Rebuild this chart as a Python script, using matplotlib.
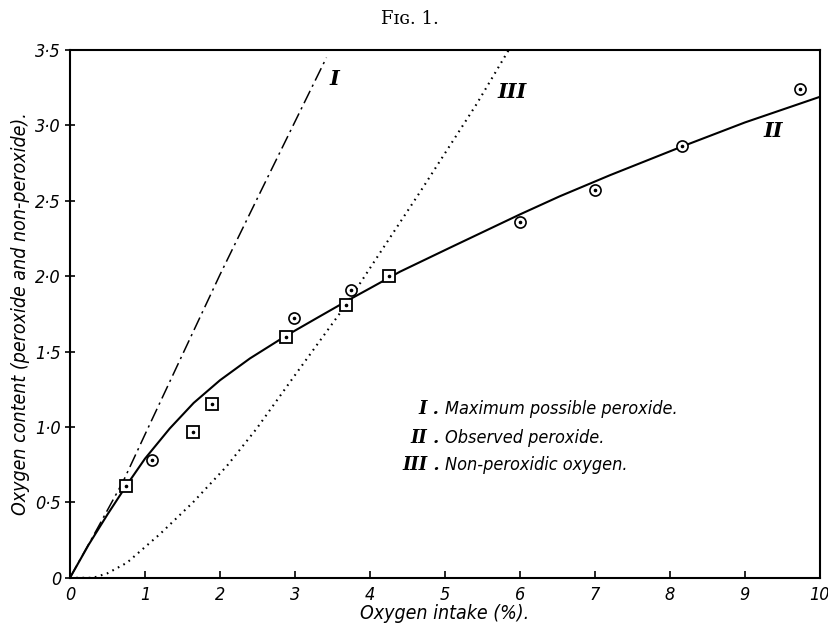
import numpy as np
import matplotlib
matplotlib.use('Agg')
import matplotlib.pyplot as plt

# Observed peroxide points (squares and circles)
sq_x = [0.75, 1.64, 1.89, 2.88, 3.68, 4.25]
sq_y = [0.61, 0.97, 1.155, 1.60, 1.81, 2.00]
ci_x = [1.09, 2.99, 3.75, 6.0, 7.0, 8.16, 9.73]
ci_y = [0.78, 1.72, 1.91, 2.36, 2.57, 2.865, 3.24]

# Curve I: maximum possible peroxide (dash-dot)
c1_x = [0, 0.38, 0.71, 1.0, 2.0, 2.62, 3.42]
c1_y = [0, 0.34, 0.64, 0.95, 2.01, 2.64, 3.45]

# Curve II: observed peroxide (solid)
c2_x = [0, 0.25, 0.5, 0.75, 1.0, 1.33, 1.65, 2.0, 2.4, 2.88, 3.3, 3.67, 4.0,
        4.4, 5.07, 6.0, 6.53, 7.2, 8.16, 9.0, 10]
c2_y = [0, 0.22, 0.42, 0.61, 0.79, 0.99, 1.16, 1.31, 1.455, 1.605, 1.725, 1.83, 1.92,
        2.03, 2.19, 2.41, 2.53, 2.67, 2.86, 3.02, 3.19]

# Curve III: non-peroxidic oxygen (dotted)
c3_x = [0, 0.31, 0.5, 0.76, 1.2, 1.64, 2.09, 2.49, 2.98, 3.68, 4.18, 4.67, 5.42, 5.85]
c3_y = [0, 0.0, 0.03, 0.10, 0.29, 0.50, 0.74, 0.99, 1.33, 1.81, 2.19, 2.56, 3.14, 3.5]

x_ticks = list(range(0, 11))
y_ticks = [0, 0.5, 1.0, 1.5, 2.0, 2.5, 3.0, 3.5]
y_ticklabels = ['0', '0\u00b75', '1\u00b70', '1\u00b75', '2\u00b70', '2\u00b75', '3\u00b70', '3\u00b75']

legend_num = ['I', 'II', 'III']
legend_txt = ['Maximum possible peroxide.', 'Observed peroxide.', 'Non-peroxidic oxygen.']

hand = dict(family='DejaVu Sans', style='italic', stretch='condensed')
roman = dict(family='DejaVu Serif', style='italic', weight='bold')

fig = plt.figure(figsize=(8.29, 6.26), dpi=100)
ax = fig.add_axes([0.0844, 0.077, 0.9046, 0.843])

ax.plot(c1_x, c1_y, color='black', lw=1.1, dashes=(9, 3, 1.5, 3))
ax.plot(c3_x, c3_y, color='black', lw=1.5, linestyle=(0, (0.8, 2.2)))
ax.plot(c2_x, c2_y, color='black', lw=1.5, solid_capstyle='round', solid_joinstyle='round')

ax.plot(sq_x, sq_y, ls='none', marker='s', ms=8.5, mfc='white', mec='black', mew=1.3, zorder=4)
ax.plot(ci_x, ci_y, ls='none', marker='o', ms=8, mfc='white', mec='black', mew=1.2, zorder=4)
ax.plot(sq_x + ci_x, sq_y + ci_y, ls='none', marker='o', ms=1.6, color='black', zorder=5)

ax.set_xlim(0, 10)
ax.set_ylim(0, 3.5)
ax.set_xticks(x_ticks)
ax.set_yticks(y_ticks)
ax.set_xticklabels([str(v) for v in x_ticks], fontsize=13, **hand)
ax.set_yticklabels(y_ticklabels, fontsize=13, **hand)
ax.tick_params(axis='x', direction='in', length=5, width=1.2, pad=6)
ax.tick_params(axis='y', direction='inout', length=7, width=1.2, pad=3)
for s in ax.spines.values():
    s.set_linewidth(1.5)

ax.set_xlabel('Oxygen intake (%).', fontsize=14, labelpad=0, **hand)
ax.set_ylabel('Oxygen content (peroxide and non-peroxide).', fontsize=14, labelpad=4, **hand)

fig.text(0.495, 0.97, 'F\u026a\u0262. 1.', ha='center', va='center', fontsize=13,
         family='DejaVu Serif')

# curve labels
ax.text(3.53, 3.31, 'I', fontsize=15, ha='center', va='center', **roman)
ax.text(5.89, 3.22, 'III', fontsize=15, ha='center', va='center', **roman)
ax.text(9.38, 2.96, 'II', fontsize=15, ha='center', va='center', **roman)

# key
key_y = [1.12, 0.93, 0.75]
for num, txt, yy in zip(legend_num, legend_txt, key_y):
    ax.text(4.93, yy, num + ' .', fontsize=13, ha='right', va='center', **roman)
    ax.text(5.0, yy, txt, fontsize=13, ha='left', va='center', **hand)

fig.savefig('out.png', dpi=100)
